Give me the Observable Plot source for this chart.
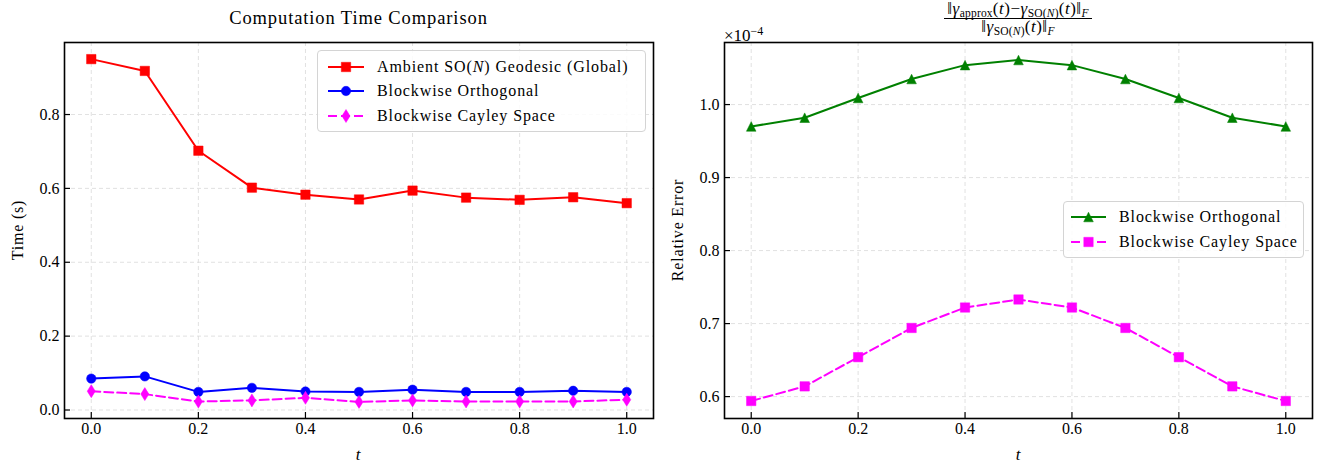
<!DOCTYPE html>
<html>
<head>
<meta charset="utf-8">
<script src="https://cdn.jsdelivr.net/npm/d3@7"></script>
<script src="https://cdn.jsdelivr.net/npm/@observablehq/plot@0.6"></script>
<style>
  html, body { margin: 0; padding: 0; background: #fff; }
  #wrap { position: relative; width: 1325px; height: 468px; overflow: hidden; font-family: "Liberation Serif", "DejaVu Serif", serif; color: #000; }
  .panel { position: absolute; top: 0; }
  .ov { position: absolute; white-space: nowrap; }
  .title { font-size: 18.5px; letter-spacing: 0.9px; text-align: center; line-height: 20px; }
  .ylab { font-size: 16px; letter-spacing: 0.8px; transform: translate(-50%, -50%) rotate(-90deg); line-height: 18px; }
  .xlab { font-size: 17px; font-style: italic; transform: translate(-50%, -50%); line-height: 18px; }
  .legend { position: absolute; border: 1px solid #d4d4d4; border-radius: 4px; background: rgba(255,255,255,0.85); box-sizing: border-box; }
  .legend .row { position: absolute; left: 0; height: 20px; }
  .legend .row svg { position: absolute; left: 0; top: 0; }
  .legend .row span { position: absolute; top: 0; font-size: 16px; letter-spacing: 0.9px; line-height: 20px; white-space: nowrap; }
  .frac { display: inline-flex; flex-direction: column; align-items: center; font-size: 17px; letter-spacing: 0.5px; }
  .frac .num { border-bottom: 1.2px solid #000; padding: 0 3px 0 3px; line-height: 18px; height: 18px; }
  .frac .den { line-height: 15px; padding-top: 0px; }
  .frac sub { font-size: 11.5px; vertical-align: -3px; letter-spacing: 0.2px; }
  .ov.offset { font-size: 17px; line-height: 18px; }
  .ov.offset sup { font-size: 12px; vertical-align: 6px; }
</style>
</head>
<body>
<div id="wrap">
  <div id="left" class="panel" style="left:0px"></div>
  <div id="right" class="panel" style="left:662px"></div>
</div>
<script>
// ---------------- data ----------------
const tValues = [0.0, 0.1, 0.2, 0.3, 0.4, 0.5, 0.6, 0.7, 0.8, 0.9, 1.0];

// Computation time (s)
const timeAmbient = [0.950, 0.918, 0.702, 0.602, 0.583, 0.570, 0.594, 0.575, 0.569, 0.576, 0.560];
const timeOrth    = [0.085, 0.091, 0.049, 0.060, 0.050, 0.049, 0.055, 0.049, 0.049, 0.052, 0.049];
const timeCayley  = [0.051, 0.043, 0.023, 0.026, 0.033, 0.022, 0.026, 0.023, 0.023, 0.023, 0.028];

// Relative error (in units of 1e-4)
const errOrth   = [0.970, 0.982, 1.009, 1.035, 1.054, 1.061, 1.054, 1.035, 1.009, 0.982, 0.970];
const errCayley = [0.594, 0.614, 0.654, 0.694, 0.722, 0.733, 0.722, 0.694, 0.654, 0.614, 0.594];

const xTicks = [0.0, 0.2, 0.4, 0.6, 0.8, 1.0];
const yTicksTime = [0.0, 0.2, 0.4, 0.6, 0.8];
const yTicksErr = [0.6, 0.7, 0.8, 0.9, 1.0];

const labelsTime = ["Ambient SO(<i>N</i>) Geodesic (Global)", "Blockwise Orthogonal", "Blockwise Cayley Space"];
const labelsErr = ["Blockwise Orthogonal", "Blockwise Cayley Space"];

// ---------------- symbols ----------------
const rOf = (size) => Math.sqrt(size / Math.PI);
const symSquare = { draw(ctx, size) { const r = rOf(size); ctx.moveTo(-r, -r); ctx.lineTo(r, -r); ctx.lineTo(r, r); ctx.lineTo(-r, r); ctx.closePath(); } };
const symCircle = { draw(ctx, size) { const r = rOf(size); ctx.moveTo(r, 0); ctx.arc(0, 0, r, 0, 2 * Math.PI); } };
const symThinDiamond = { draw(ctx, size) { const r = rOf(size); ctx.moveTo(0, -r); ctx.lineTo(0.62 * r, 0); ctx.lineTo(0, r); ctx.lineTo(-0.62 * r, 0); ctx.closePath(); } };
const symTriangle = { draw(ctx, size) { const r = rOf(size); ctx.moveTo(0, -r); ctx.lineTo(r, r); ctx.lineTo(-r, r); ctx.closePath(); } };

const RED = "#ff0000", BLUE = "#0000ff", MAG = "#ff00ff", GREEN = "#008000";
const DASH = "9,4";

const seriesTime = [
  {values: timeAmbient, color: RED, symbol: symSquare, r: 4.7, dash: null},
  {values: timeOrth, color: BLUE, symbol: symCircle, r: 4.7, dash: null},
  {values: timeCayley, color: MAG, symbol: symThinDiamond, r: 6.5, dash: DASH}
];
const seriesErr = [
  {values: errOrth, color: GREEN, symbol: symTriangle, r: 4.8, dash: null},
  {values: errCayley, color: MAG, symbol: symSquare, r: 4.7, dash: DASH}
];

const H = 468;
const fmt = d3.format(".1f");

function makePanel({width, margins, yDomain, yTicks, series}) {
  const [mt, mr, mb, ml] = margins;
  const innerW = width - ml - mr;
  const innerH = H - mt - mb;
  const marks = [
    Plot.gridX(xTicks, {stroke: "#d9d9d9", strokeOpacity: 1, strokeWidth: 0.8, strokeDasharray: "4,3"}),
    Plot.gridY(yTicks, {stroke: "#d9d9d9", strokeOpacity: 1, strokeWidth: 0.8, strokeDasharray: "4,3"})
  ];
  for (const s of series) {
    const data = tValues.map((t, i) => ({t, v: s.values[i]}));
    marks.push(Plot.line(data, {x: "t", y: "v", stroke: s.color, strokeWidth: 2, strokeDasharray: s.dash}));
    marks.push(Plot.dot(data, {x: "t", y: "v", symbol: s.symbol, r: s.r, fill: s.color, stroke: s.color, strokeWidth: 0.5}));
  }
  marks.push(
    Plot.tickX(xTicks, {x: d => d, insetTop: innerH - 6, stroke: "black", strokeWidth: 1.2}),
    Plot.tickY(yTicks, {y: d => d, insetRight: innerW - 6, stroke: "black", strokeWidth: 1.2}),
    Plot.axisX(xTicks, {tickSize: 0, tickPadding: 4, tickFormat: fmt, label: null, fontSize: 16}),
    Plot.axisY(yTicks, {tickSize: 0, tickPadding: 5, tickFormat: fmt, label: null, fontSize: 16}),
    Plot.frame({stroke: "black", strokeWidth: 1.6})
  );
  return Plot.plot({
    width, height: H,
    marginTop: mt, marginRight: mr, marginBottom: mb, marginLeft: ml,
    style: {fontFamily: "'Liberation Serif', 'DejaVu Serif', serif", fontSize: "16px", color: "#000", background: "transparent", overflow: "visible"},
    x: {domain: [-0.05, 1.05], label: null},
    y: {domain: yDomain, label: null},
    marks
  });
}

document.getElementById("left").appendChild(makePanel({
  width: 662, margins: [42, 9, 50, 64], yDomain: [-0.023, 0.995], yTicks: yTicksTime, series: seriesTime
}));
document.getElementById("right").appendChild(makePanel({
  width: 663, margins: [42, 13, 50, 62], yDomain: [0.570, 1.085], yTicks: yTicksErr, series: seriesErr
}));

// ---------------- overlays (text) ----------------
const wrap = d3.select("#wrap");
function ov(cls, html, style) {
  const d = wrap.append("div").attr("class", "ov " + cls).html(html);
  for (const k in style) d.style(k, style[k]);
  return d;
}
ov("title", "Computation Time Comparison", {left: "64px", width: "589px", top: "8px"});
ov("", '<span class="frac"><span class="num">‖<i>γ</i><sub>approx</sub>(<i>t</i>)−<i>γ</i><sub>SO(<i>N</i>)</sub>(<i>t</i>)‖<sub><i>F</i></sub></span><span class="den">‖<i>γ</i><sub>SO(<i>N</i>)</sub>(<i>t</i>)‖<sub><i>F</i></sub></span></span>',
   {left: "724px", width: "588px", top: "0px", "text-align": "center"});
ov("offset", "×10<sup>−4</sup>", {left: "724px", top: "22px"});
ov("ylab", "Time (s)", {left: "18px", top: "230px"});
ov("ylab", "Relative Error", {left: "678px", top: "230px"});
ov("xlab", "t", {left: "358px", top: "455px"});
ov("xlab", "t", {left: "1018px", top: "455px"});

function legend({left, top, width, height, rows, labels, series, lineX0, lineX1, textX}) {
  const box = wrap.append("div").attr("class", "legend")
    .style("left", left + "px").style("top", top + "px")
    .style("width", width + "px").style("height", height + "px");
  series.forEach((s, i) => {
    const row = box.append("div").attr("class", "row").style("top", (rows[i] - 10) + "px").style("width", width + "px");
    const svg = row.append("svg").attr("width", textX).attr("height", 20);
    svg.append("line").attr("x1", lineX0).attr("x2", lineX1).attr("y1", 10).attr("y2", 10)
      .attr("stroke", s.color).attr("stroke-width", 2).attr("stroke-dasharray", s.dash);
    svg.append("path").attr("transform", `translate(${(lineX0 + lineX1) / 2},10)`)
      .attr("d", d3.symbol(s.symbol, Math.PI * s.r * s.r)())
      .attr("fill", s.color).attr("stroke", s.color).attr("stroke-width", 0.5);
    row.append("span").style("left", textX + "px").html(labels[i]);
  });
}
legend({left: 317, top: 50, width: 329, height: 82, rows: [16, 40, 65], labels: labelsTime, series: seriesTime, lineX0: 10, lineX1: 46, textX: 59});
legend({left: 1063, top: 201, width: 241, height: 57, rows: [15, 40], labels: labelsErr, series: seriesErr, lineX0: 7, lineX1: 42, textX: 55});
</script>
</body>
</html>
